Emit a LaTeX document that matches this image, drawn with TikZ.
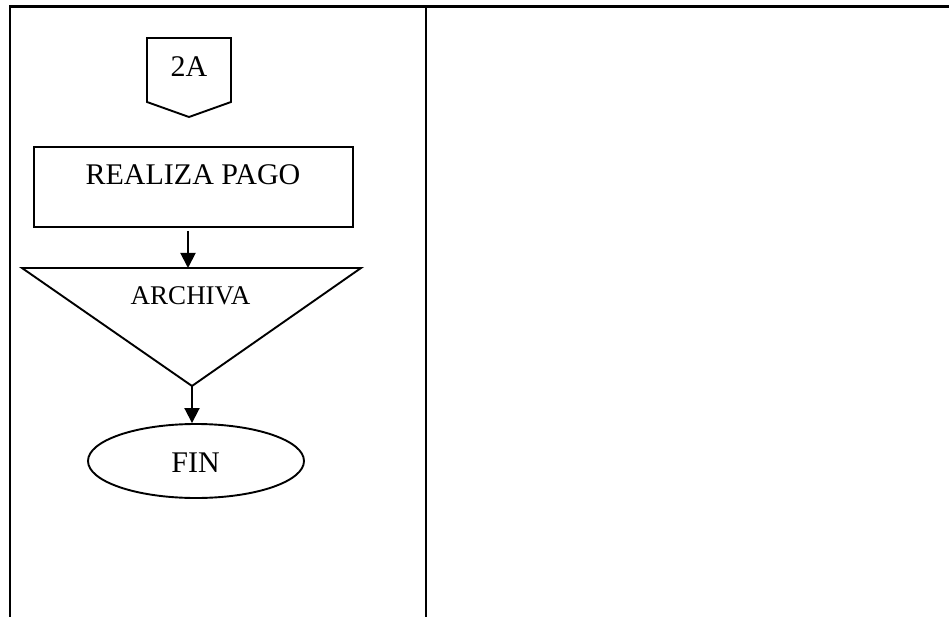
\documentclass[tikz,border=0pt]{standalone}
\usepackage{fontspec}
\setmainfont{Liberation Serif}
\usetikzlibrary{arrows.meta,shapes.geometric}
\begin{document}
\begin{tikzpicture}[x=1pt,y=-1pt,
  tabline/.style={line width=2.3pt},
  shapeline/.style={line width=1.9pt},
  flow/.style={shapeline,-{Triangle[length=15pt,width=15pt]}},
  bigtxt/.style={font=\fontsize{30}{35}\selectfont, inner sep=0pt, anchor=base},
  midtxt/.style={font=\fontsize{27}{32}\selectfont, inner sep=0pt, anchor=base}]
\useasboundingbox (0,0) rectangle (949,617);
% table frame
\draw[tabline] (10,617) -- (10,6.5) -- (949,6.5);
\draw[tabline] (426,6.5) -- (426,617);
% off-page connector 2A
\draw[shapeline] (147,38) -- (231,38) -- (231,102) -- (189,117) -- (147,102) -- cycle;
\coordinate (c2a) at (189,117);
\node[bigtxt] (t2a) at (189,77) {2A};
% process box
\node[draw, shapeline, minimum width=319pt, minimum height=80pt, inner sep=0pt] (rp) at (193.5,187) {};
\node[bigtxt] (trp) at (193,185) {REALIZA PAGO};
% archive triangle
\coordinate (arcL) at (22,268);
\coordinate (arcR) at (361,268);
\coordinate (arcTip) at (192,386);
\coordinate (arcTop) at (188,268);
\draw[shapeline, line join=miter] (arcL) -- (arcR) -- (arcTip) -- cycle;
\node[midtxt] (tarc) at (190.5,305) {ARCHIVA};
% end ellipse
\node[draw, shapeline, ellipse, minimum width=216pt, minimum height=74pt, inner sep=0pt] (fin) at (196,461) {};
\node[bigtxt] (tfin) at (195.5,472) {FIN};
% connectors
\draw[flow] (rp.south -| arcTop) ++(0,3) coordinate (rpOut) (rpOut) -- (arcTop);
\draw[flow] (arcTip) -- (fin.north -| arcTip);
\end{tikzpicture}
\end{document}
